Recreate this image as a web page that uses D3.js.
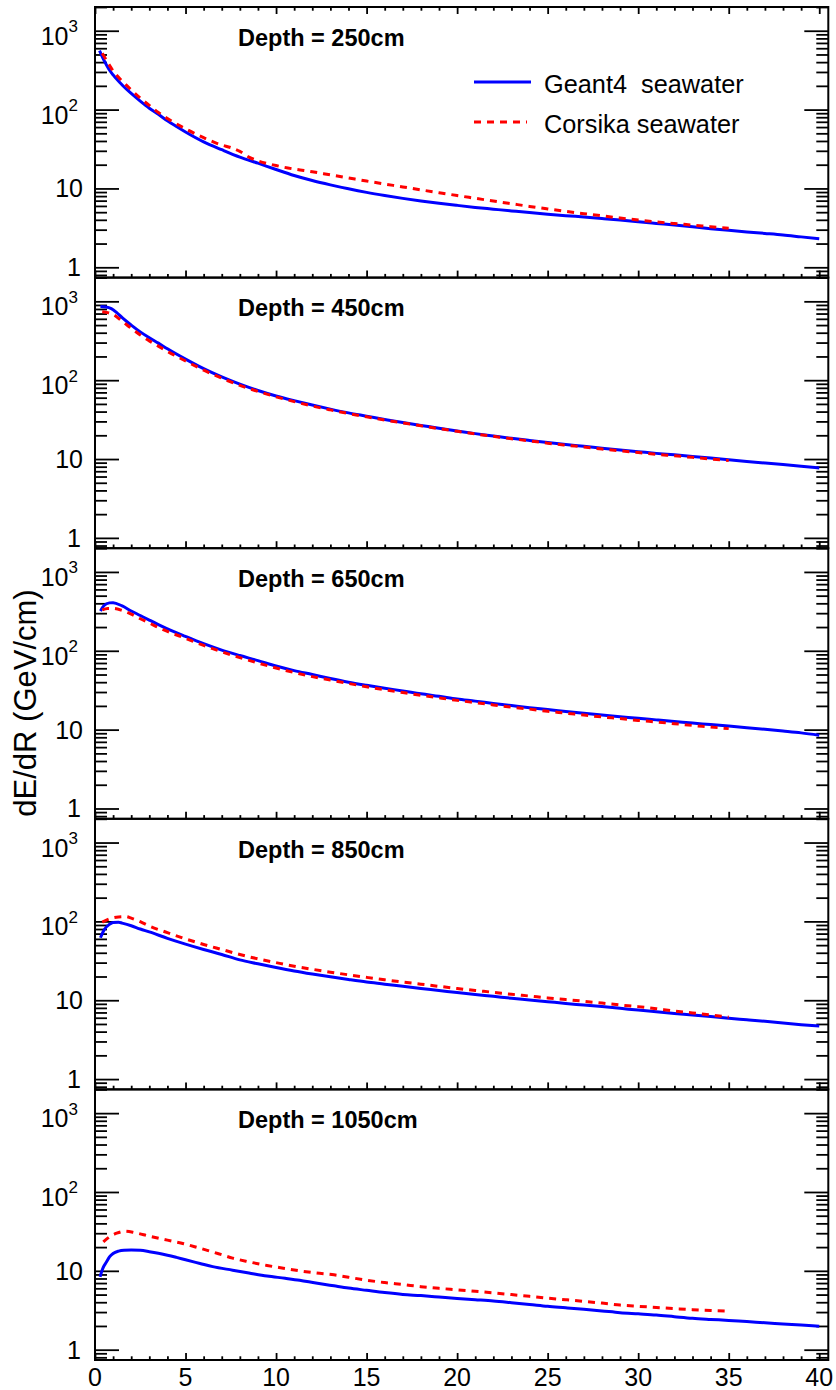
<!DOCTYPE html>
<html><head><meta charset="utf-8">
<script src="https://cdn.jsdelivr.net/npm/d3@7"></script>
<style>
body{margin:0;background:#fff}
svg{display:block}
text{font-family:"Liberation Sans",Arial,Helvetica,sans-serif;fill:#000}
</style>
</head><body>
<svg id="c" width="836" height="1390"></svg>
<script>
// ---------- data ----------
const depths = ["250cm", "450cm", "650cm", "850cm", "1050cm"];
const seriesNames = ["Geant4  seawater", "Corsika seawater"];
const xMajorTicks = [0, 5, 10, 15, 20, 25, 30, 35, 40];
const yMajorTicks = [1, 10, 100, 1000];
const yTickLabels = [["1", ""], ["10", ""], ["10", "2"], ["10", "3"]];

const geant4_250 = [[0.25,560],[0.5,420],[0.75,330],[1,275],[1.5,205],[2,160],[2.5,128],[3,104],[3.5,87],[4,72],[4.5,61],[5,52],[6,39],[7,31],[8,25],[9,20.9],[10,17.4],[11,14.6],[12,12.6],[13,11.1],[14,9.89],[15,8.91],[16,8.13],[17,7.48],[18,6.95],[19,6.49],[20,6.1],[21,5.75],[22,5.46],[23,5.19],[24,4.94],[25,4.72],[26,4.52],[27,4.34],[28,4.16],[29,3.98],[30,3.78],[31,3.6],[32,3.43],[33,3.26],[34,3.09],[35,2.94],[36,2.81],[37,2.69],[38,2.57],[39,2.43],[40,2.3]];
const corsika_250 = [[0.4,520],[0.75,380],[1,310],[1.5,230],[2,178],[2.5,140],[3,113],[3.5,92],[4,77],[5,57],[6,44],[7,35.5],[7.5,33],[8,29.5],[8.5,25],[9,22.4],[10,19.5],[11,17.6],[12,16.3],[13,14.86],[14,13.58],[15,12.4],[16,11.38],[17,10.45],[18,9.59],[19,8.83],[20,8.13],[21,7.5],[22,6.92],[23,6.4],[24,5.92],[25,5.5],[26,5.12],[27,4.79],[28,4.49],[29,4.22],[30,3.98],[31,3.77],[32,3.59],[33,3.43],[34,3.27],[35,3.13]];

const geant4_450 = [[0.3,860],[0.6,850],[0.9,810],[1.2,720],[1.5,620],[2,500],[2.5,410],[3,345],[3.5,295],[4,250],[5,185],[6,140],[7,110],[8,89],[9,74],[10,63],[11,55],[12,48.5],[13,43],[14,38.5],[15,35],[16,31.8],[17,29],[18,26.7],[19,24.5],[20,22.7],[21,21],[22,19.6],[23,18.3],[24,17.2],[25,16.2],[26,15.3],[27,14.5],[28,13.7],[29,13],[30,12.4],[31,11.8],[32,11.3],[33,10.8],[34,10.3],[35,9.8],[36,9.3],[37,8.9],[38,8.5],[39,8.1],[40,7.7]];
const corsika_450 = [[0.4,740],[0.7,720],[1.0,680],[1.5,560],[2,455],[2.5,375],[3,315],[3.5,270],[4,232],[5,175],[6,134],[7,106],[8,86],[9,72],[10,61.5],[11,53.5],[12,47],[13,42],[14,37.8],[15,34.3],[16,31.3],[17,28.7],[18,26.4],[19,24.3],[20,22.5],[21,20.8],[22,19.4],[23,18.1],[24,17],[25,15.9],[26,15],[27,14.2],[28,13.4],[29,12.7],[30,12.1],[31,11.5],[32,11],[33,10.5],[34,10],[35,9.6]];

const geant4_650 = [[0.3,320],[0.5,375],[0.8,405],[1,408],[1.5,370],[2,320],[2.5,280],[3,245],[3.5,215],[4,190],[5,152],[6,123],[7,102],[8,87],[9,75],[10,64],[11,56],[12,50],[13,44.5],[14,40],[15,36.5],[16,33.5],[17,31],[18,28.5],[19,26.5],[20,24.5],[21,23],[22,21.5],[23,20.2],[24,19],[25,18],[26,17],[27,16.1],[28,15.3],[29,14.6],[30,13.9],[31,13.3],[32,12.7],[33,12.1],[34,11.6],[35,11.1],[36,10.6],[37,10.1],[38,9.6],[39,9.1],[40,8.5]];
const corsika_650 = [[0.4,330],[0.7,345],[1,345],[1.5,325],[2,292],[2.5,255],[3,225],[3.5,198],[4,176],[5,144],[6,117],[7,97],[8,82],[9,70],[10,60.5],[11,53],[12,47],[13,42.5],[14,38.5],[15,35],[16,32],[17,29.5],[18,27.3],[19,25.3],[20,23.5],[21,22],[22,20.6],[23,19.3],[24,18.2],[25,17.1],[26,16.2],[27,15.3],[28,14.5],[29,13.8],[30,13.1],[31,12.5],[32,11.9],[33,11.3],[34,10.8],[35,10.3]];

const geant4_850 = [[0.3,62],[0.5,78],[0.8,92],[1,97],[1.3,97.5],[1.5,95],[2,88],[2.5,80],[3,73.5],[4,61],[5,51.5],[6,44],[7,38],[8,32.5],[9,29],[10,26],[11,23.5],[12,21.5],[13,19.8],[14,18.3],[15,17],[16,16],[17,15],[18,14.1],[19,13.3],[20,12.5],[21,11.8],[22,11.2],[23,10.6],[24,10.1],[25,9.6],[26,9.1],[27,8.7],[28,8.3],[29,7.9],[30,7.5],[31,7.15],[32,6.8],[33,6.5],[34,6.2],[35,5.9],[36,5.65],[37,5.4],[38,5.15],[39,4.9],[40,4.7]];
const corsika_850 = [[0.4,98],[0.8,108],[1.3,114],[1.7,115],[2,110],[2.5,99],[3,87],[4,72],[5,60],[6,51],[7,44],[8,38],[9,33.5],[10,30],[11,27],[12,24.7],[13,22.7],[14,21],[15,19.5],[16,18.2],[17,17],[18,16],[19,15],[20,14.1],[21,13.3],[22,12.6],[23,11.9],[24,11.3],[25,10.7],[26,10.2],[27,9.7],[28,9.2],[29,8.7],[30,8.3],[31,7.8],[32,7.3],[33,6.9],[34,6.5],[35,6.1]];

const geant4_1050 = [[0.28,8.4],[0.45,11],[0.64,13],[0.8,15],[1,16.6],[1.3,17.8],[1.6,18.3],[2,18.4],[2.5,18.2],[3,17.5],[3.5,16.7],[4,15.8],[4.5,14.8],[5,13.8],[5.8,12.4],[6.5,11.3],[7.6,10.2],[8.5,9.4],[9.5,8.6],[10.5,8.05],[11.3,7.6],[12.2,7],[13.2,6.45],[14,6.05],[15,5.66],[16,5.3],[17,5.02],[18,4.85],[19,4.65],[20,4.45],[21,4.3],[22,4.15],[23,3.95],[24,3.75],[25,3.55],[26,3.4],[27,3.25],[28,3.1],[29,2.95],[30,2.85],[31,2.75],[32,2.62],[33,2.5],[34,2.42],[35,2.35],[36,2.27],[37,2.2],[38,2.12],[39,2.05],[40,1.98]];
const corsika_1050 = [[0.46,23.3],[0.8,27],[1.2,30],[1.66,31.8],[2.2,30.5],[3,27.5],[4,24.5],[4.9,22.1],[5.5,20.2],[6.2,18.2],[7,16],[7.6,14.5],[8.5,13],[9.5,11.7],[10.4,10.8],[11.3,10],[12.2,9.4],[13.2,8.9],[14,8.3],[15,7.6],[16,7.1],[17,6.7],[18,6.3],[19,6.0],[20,5.75],[21,5.5],[22,5.25],[23,5.0],[24,4.75],[25,4.5],[26,4.3],[27,4.1],[28,3.9],[29,3.68],[30,3.55],[31,3.43],[32,3.32],[33,3.22],[34,3.14],[35,3.07]];

const geant4Series = [geant4_250, geant4_450, geant4_650, geant4_850, geant4_1050];
const corsikaSeries = [corsika_250, corsika_450, corsika_650, corsika_850, corsika_1050];

// ---------- layout ----------
const svg = d3.select("#c");
svg.append("rect").attr("width", 836).attr("height", 1390).attr("fill", "#fff");

const L = 95, R = 828.3, T0 = 7, B = 1360;
const nP = depths.length;
const pH = (B - T0) / nP;
const x = d3.scaleLinear().domain([0, 40.5]).range([L, R]);
const yDomain = [0.74, 2000];

const xMinor = d3.range(0, 41, 1).filter(v => v % 5 !== 0);
function yMinorVals() {
  const out = [];
  for (const dec of [0.1, 1, 10, 100, 1000]) {
    for (let k = 2; k <= 9; k++) {
      const v = k * dec;
      if (v >= yDomain[0] && v <= yDomain[1]) out.push(v);
    }
  }
  return out;
}
const yMinor = yMinorVals();

const COL_BLUE = "#0000ff", COL_RED = "#ff0000";

function styleAxis(g) {
  g.select(".domain").remove();
  g.selectAll(".tick line").attr("stroke", "#000").attr("stroke-width", 1.8);
  g.selectAll(".tick text").remove();
}

for (let i = 0; i < nP; i++) {
  const top = T0 + i * pH, bot = top + pH;
  const y = d3.scaleLog().domain(yDomain).range([bot, top]);
  const g = svg.append("g");

  g.append("g").attr("transform", `translate(${L},0)`)
    .call(d3.axisRight(y).tickValues(yMajorTicks).tickSize(24)).call(styleAxis);
  g.append("g").attr("transform", `translate(${L},0)`)
    .call(d3.axisRight(y).tickValues(yMinor).tickSize(12)).call(styleAxis);
  g.append("g").attr("transform", `translate(${R},0)`)
    .call(d3.axisLeft(y).tickValues(yMajorTicks).tickSize(24)).call(styleAxis);
  g.append("g").attr("transform", `translate(${R},0)`)
    .call(d3.axisLeft(y).tickValues(yMinor).tickSize(12)).call(styleAxis);
  g.append("g").attr("transform", `translate(0,${bot})`)
    .call(d3.axisTop(x).tickValues(xMajorTicks).tickSize(7)).call(styleAxis);
  g.append("g").attr("transform", `translate(0,${bot})`)
    .call(d3.axisTop(x).tickValues(xMinor).tickSize(3.7)).call(styleAxis);
  if (i === 0) {
    g.append("g").attr("transform", `translate(0,${top})`)
      .call(d3.axisBottom(x).tickValues(xMajorTicks).tickSize(7)).call(styleAxis);
    g.append("g").attr("transform", `translate(0,${top})`)
      .call(d3.axisBottom(x).tickValues(xMinor).tickSize(3.7)).call(styleAxis);
  }

  yMajorTicks.forEach((v, j) => {
    const [base, sup] = yTickLabels[j];
    const ty = y(v);
    if (sup) {
      const t = g.append("text").attr("text-anchor", "end").attr("x", 78).attr("y", ty + 14)
        .style("font-size", "25px");
      t.append("tspan").text(base);
      t.append("tspan").attr("dy", -12.5).style("font-size", "17px").text(sup);
    } else {
      g.append("text").attr("text-anchor", "end")
        .attr("x", base === "1" ? 81 : 83).attr("y", ty + 9)
        .style("font-size", "25px").text(base);
    }
  });

  const line = d3.line().x(d => x(d[0])).y(d => y(d[1])).curve(d3.curveMonotoneX);
  g.append("path").datum(geant4Series[i]).attr("d", line)
    .attr("fill", "none").attr("stroke", COL_BLUE).attr("stroke-width", 3);
  g.append("path").datum(corsikaSeries[i]).attr("d", line)
    .attr("fill", "none").attr("stroke", COL_RED).attr("stroke-width", 3)
    .attr("stroke-dasharray", "7,6");

  g.append("text").attr("x", 238).attr("y", top + 38.7)
    .style("font-size", "23.5px").style("font-weight", "bold")
    .text("Depth = " + depths[i]);

  g.append("rect").attr("x", L).attr("y", top).attr("width", R - L).attr("height", pH)
    .attr("fill", "none").attr("stroke", "#000").attr("stroke-width", 2);
}

svg.append("g").selectAll("text").data(xMajorTicks).join("text")
  .attr("x", d => x(d)).attr("y", 1385.5).attr("text-anchor", "middle")
  .style("font-size", "25px").text(d => d);

const lg = svg.append("g");
const legY = [82, 122];
const legCols = [COL_BLUE, COL_RED];
legY.forEach((ly, k) => {
  lg.append("line").attr("x1", 474).attr("x2", k === 0 ? 531 : 527).attr("y1", ly).attr("y2", ly)
    .attr("stroke", legCols[k]).attr("stroke-width", 3)
    .attr("stroke-dasharray", k === 1 ? "7,6" : null);
  lg.append("text").attr("x", 544).attr("y", ly + 11).style("font-size", "25.3px")
    .style("white-space", "pre").attr("xml:space", "preserve").text(seriesNames[k]);
});

svg.append("text").attr("transform", "translate(36,703) rotate(-90)")
  .attr("text-anchor", "middle").style("font-size", "31px")
  .text("dE/dR (GeV/cm)");
</script>
</body></html>
